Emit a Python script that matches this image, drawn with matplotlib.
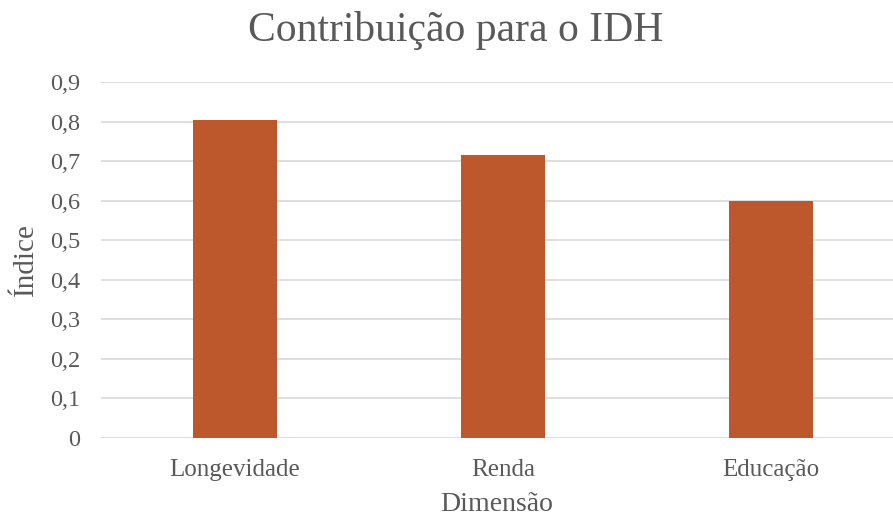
import matplotlib.pyplot as plt

dimensoes = ["Longevidade", "Renda", "Educação"]
indices = [0.804, 0.715, 0.599]
yticks = [0, 0.1, 0.2, 0.3, 0.4, 0.5, 0.6, 0.7, 0.8, 0.9]

plt.rcParams["font.family"] = ["Liberation Serif", "DejaVu Serif"]
cinza = "#595959"

fig = plt.figure(figsize=(8.93, 5.19), dpi=100)
ax = fig.add_axes([0.1131, 0.1561, 0.8869, 0.686])

ax.bar(range(len(dimensoes)), indices, width=0.313, color="#BD582C", zorder=2)

ax.set_ylim(0, 0.9)
ax.set_xlim(-0.5, 2.455)
ax.set_yticks(yticks)
ax.set_yticklabels(["0" if v == 0 else ("%.1f" % v).replace(".", ",") for v in yticks])
ax.set_xticks(range(len(dimensoes)))
ax.set_xticklabels(dimensoes)
ax.tick_params(axis="y", length=0, labelsize=17.5, colors=cinza, pad=15)
ax.tick_params(axis="x", length=0, labelsize=18, colors=cinza, pad=15)
ax.grid(axis="y", color="#D9D9D9", linewidth=1.2, zorder=0)
for s in ax.spines.values():
    s.set_visible(False)

fig.text(0.51, 1 - 30 / 519, "Contribuição para o IDH", fontsize=30,
         color=cinza, ha="center", va="center")
ax.set_ylabel("Índice", fontsize=21, color=cinza, labelpad=8)
ax.set_xlabel("Dimensão", fontsize=20, color=cinza, labelpad=8)

fig.savefig("out.png", dpi=100)
